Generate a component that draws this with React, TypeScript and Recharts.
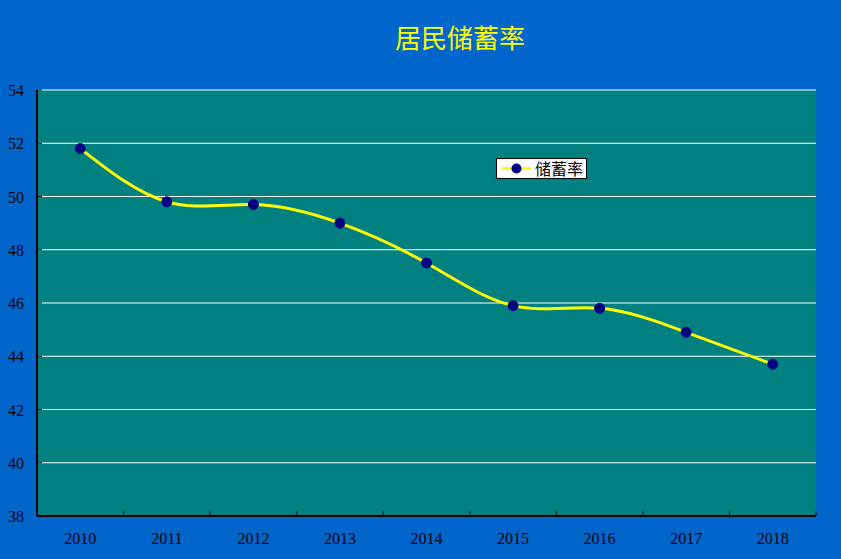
import { LineChart, Line, XAxis, YAxis, CartesianGrid } from "recharts";

const YEARS = ["2010", "2011", "2012", "2013", "2014", "2015", "2016", "2017", "2018"];
const SAVING_RATE = [51.8, 49.8, 49.7, 49.0, 47.5, 45.9, 45.8, 44.9, 43.7];
const Y_TICKS = [38, 40, 42, 44, 46, 48, 50, 52, 54];

const data = YEARS.map((year, i) => ({ year, rate: SAVING_RATE[i] }));

const TICK_FONT = "'Liberation Serif', serif";
const HALF_BAND = 43.3;

function YTick({ x, y, payload }: any) {
  return (
    <g>
      <text x={x - 13} y={y} dy={6} textAnchor="end" fontSize={16} fontFamily={TICK_FONT} fill="#000">
        {payload.value}
      </text>
      <line x1={x} x2={x + 5} y1={y} y2={y} stroke="#000" strokeWidth={1} />
    </g>
  );
}

function XTick({ x, y, payload }: any) {
  return (
    <g>
      <text x={x} y={y + 28} textAnchor="middle" fontSize={16} fontFamily={TICK_FONT} fill="#000">
        {payload.value}
      </text>
      <line x1={x + HALF_BAND} x2={x + HALF_BAND} y1={y} y2={y - 5} stroke="#000" strokeWidth={1} />
    </g>
  );
}

function LegendBox() {
  return (
    <div
      style={{
        position: "absolute",
        left: 496,
        top: 158,
        width: 91,
        height: 21,
        background: "#fff",
        border: "1px solid #000",
        display: "flex",
        alignItems: "center",
        boxSizing: "border-box",
      }}
    >
      <svg width={38} height={19}>
        <line x1={5} x2={34} y1={9.5} y2={9.5} stroke="#ffff00" strokeWidth={3} />
        <circle cx={19.5} cy={9.5} r={5} fill="#000080" />
      </svg>
      <span style={{ fontFamily: "'Noto Sans CJK SC'", fontSize: 16, lineHeight: "19px", color: "#000" }}>储蓄率</span>
    </div>
  );
}

export default function App() {
  return (
    <div style={{ position: "absolute", left: 0, top: 0, width: 841, height: 559, background: "#0066cc" }}>
      <div
        style={{
          position: "absolute",
          left: 0,
          width: 920,
          top: 20,
          textAlign: "center",
          color: "#ffff00",
          fontFamily: "'Noto Sans CJK SC'",
          fontSize: 26,
          lineHeight: "34px",
        }}
      >
        居民储蓄率
      </div>
      <LineChart width={841} height={559} data={data} margin={{ top: 90, right: 25, bottom: 0, left: 0 }}>
        <CartesianGrid vertical={false} stroke="#ffffff" fill="#008080" />
        <XAxis
          dataKey="year"
          padding={{ left: HALF_BAND, right: HALF_BAND }}
          tickSize={0}
          tickMargin={0}
          height={43}
          axisLine={{ stroke: "#000", strokeWidth: 2 }}
          tick={<XTick />}
          interval={0}
        />
        <YAxis
          domain={[38, 54]}
          ticks={Y_TICKS}
          width={37}
          tickSize={0}
          tickMargin={0}
          axisLine={{ stroke: "#000", strokeWidth: 2 }}
          tick={<YTick />}
          interval={0}
        />
        <YAxis yAxisId="r" orientation="right" width={0} domain={[38, 54]} tick={false} axisLine={{ stroke: "#fff" }} />
        <Line
          type="natural"
          dataKey="rate"
          name="储蓄率"
          stroke="#ffff00"
          strokeWidth={3}
          dot={{ r: 5, fill: "#000080", stroke: "#000080", strokeWidth: 1 }}
          isAnimationActive={false}
        />
      </LineChart>
      <LegendBox />
    </div>
  );
}
